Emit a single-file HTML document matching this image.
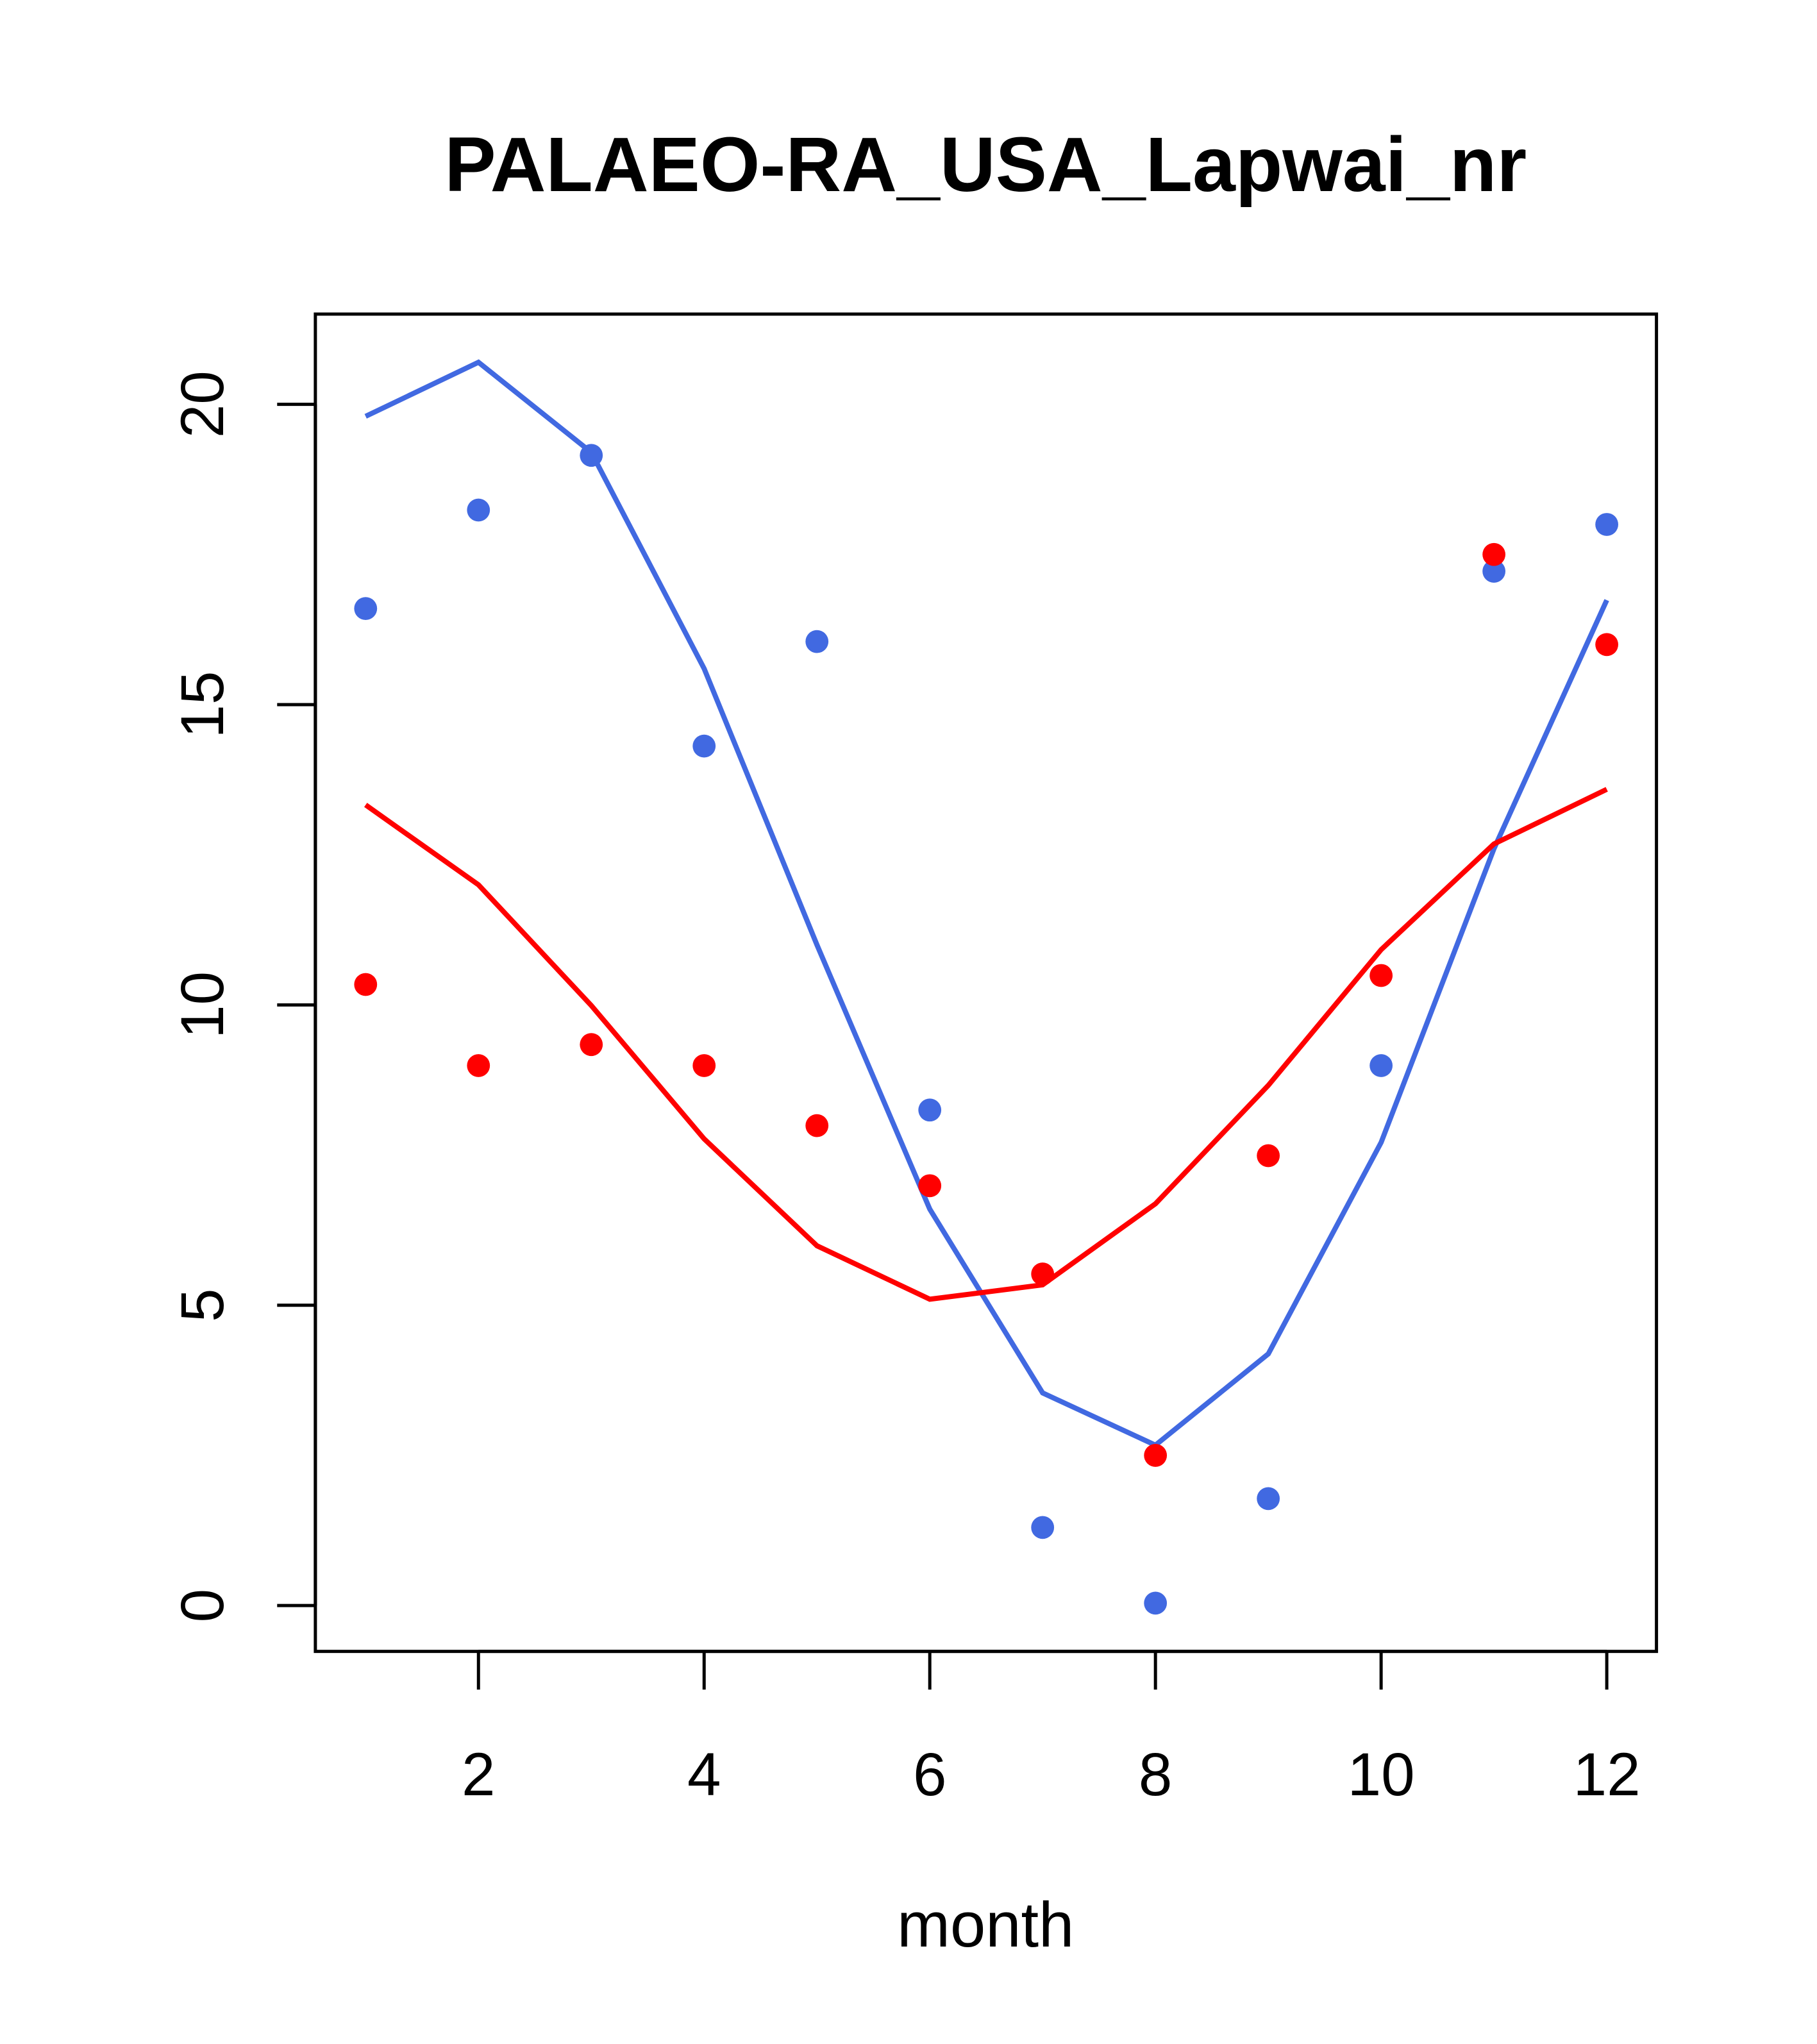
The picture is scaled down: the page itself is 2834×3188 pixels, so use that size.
<!DOCTYPE html>
<html><head><meta charset="utf-8"><style>html,body{margin:0;padding:0;background:#fff}svg{display:block}</style></head>
<body>
<svg id="chart" width="2834" height="3188" viewBox="0 0 2834 3188" xmlns="http://www.w3.org/2000/svg" font-family="'Liberation Sans', Arial, sans-serif">
<rect width="2834" height="3188" fill="#fff"/>
<g transform="scale(0.9937)">
<text x="1547" y="300" font-size="121" font-weight="bold" text-anchor="middle">PALAEO-RA_USA_Lapwai_nr</text>
<text x="1547" y="3055" font-size="100" text-anchor="middle">month</text>
<g id="axes"></g>
<g id="marks"></g>
<rect x="495" y="493" width="2105" height="2099" fill="none" stroke="#000" stroke-width="5"/>
</g>
</svg>
<script>
const months = [1,2,3,4,5,6,7,8,9,10,11,12];
const blueLine = [19.8,20.7,19.2,15.6,11.0,6.6,3.54,2.67,4.19,7.71,12.6,16.74];
const bluePoints = [16.6,18.24,19.15,14.31,16.05,8.25,1.3,0.04,1.78,8.99,17.22,18.0];
const redLine = [13.33,12.0,9.99,7.77,5.99,5.10,5.34,6.69,8.66,10.92,12.68,13.59];
const redPoints = [10.34,8.99,9.34,8.99,7.99,6.99,5.52,2.5,7.49,10.49,17.5,16.0];
const xTicks = [2,4,6,8,10,12];
const yTicks = [0,5,10,15,20];

const NS='http://www.w3.org/2000/svg';
const X = m => 751 + (m-2)*177.1;
const Y = v => 2520 - v*94.27;
const axes=document.getElementById('axes'), marks=document.getElementById('marks');
function mk(tag, attrs, parent){const e=document.createElementNS(NS,tag);for(const k in attrs)e.setAttribute(k,attrs[k]);parent.appendChild(e);return e;}

mk('line',{x1:X(2),x2:X(12),y1:2592,y2:2592,stroke:'#000','stroke-width':5},axes);
xTicks.forEach(t=>{
  const l=mk('line',{x1:X(t),x2:X(t),y1:2592,y2:2652,stroke:'#000','stroke-width':5},axes);
  
  
  const tx=mk('text',{x:X(t),y:2818,'font-size':95,'text-anchor':'middle'},axes);
  tx.textContent=t;
  
  
});
mk('line',{x1:495,x2:495,y1:Y(0),y2:Y(20),stroke:'#000','stroke-width':5},axes);
yTicks.forEach(t=>{
  const l=mk('line',{x1:435,x2:495,y1:Y(t),y2:Y(t),stroke:'#000','stroke-width':5},axes);
  
  
  const tx=mk('text',{x:0,y:0,'font-size':95,'text-anchor':'middle',transform:`translate(350,${Y(t)}) rotate(-90)`},axes);
  tx.textContent=t;
  
  
});

function line(vals,color,name){
  const p=mk('polyline',{points:vals.map((v,i)=>X(months[i])+','+Y(v)).join(' '),fill:'none',stroke:color,'stroke-width':8},marks);
  
  
}
function pts(vals,color,name){
  vals.forEach((v,i)=>{
    const c=mk('circle',{cx:X(months[i]),cy:Y(v),r:18,fill:color},marks);
    
    
  });
}
line(blueLine,'#4169E1','blue-line');
line(redLine,'#FF0000','red-line');
pts(bluePoints,'#4169E1','blue-point');
pts(redPoints,'#FF0000','red-point');
</script>
</body></html>
